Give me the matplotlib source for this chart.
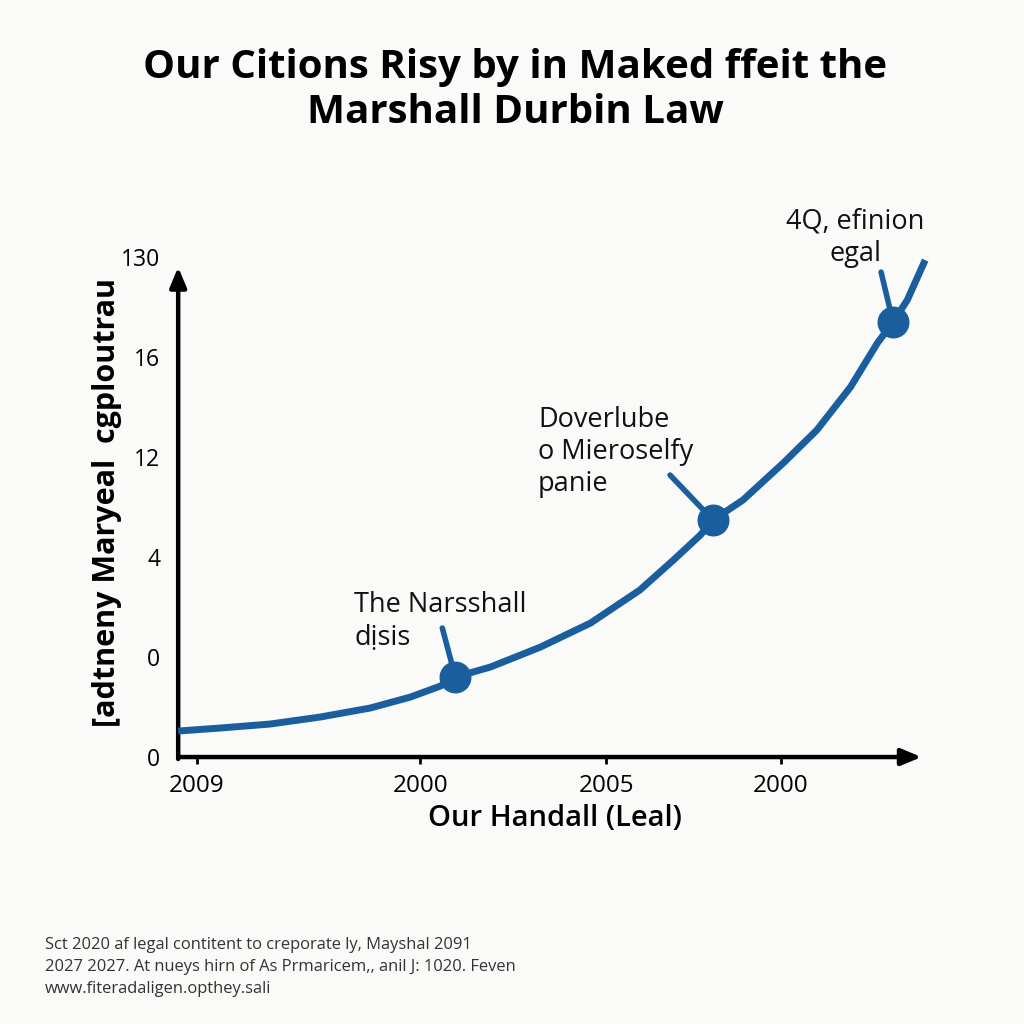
import matplotlib
matplotlib.use("Agg")
import matplotlib.pyplot as plt

# curve (arbitrary x units, axis ticks are just labels)
x_vals = [0.0, 0.56, 1.23, 1.90, 2.57, 3.11, 3.51, 3.71, 4.18, 4.85, 5.52, 6.18, 6.63,
          6.99, 7.16, 7.56, 8.10, 8.55, 9.00, 9.36, 9.57, 9.76, 10.0]
y_vals = [0.26, 0.29, 0.33, 0.40, 0.49, 0.60, 0.71, 0.80, 0.90, 1.10, 1.34, 1.67, 1.97,
          2.22, 2.37, 2.57, 2.94, 3.27, 3.70, 4.14, 4.35, 4.57, 4.97]

marker_x = [3.71, 7.16, 9.57]
marker_y = [0.80, 2.37, 4.35]
marker_labels = ["The Narsshall\ndịsis", "Doverlube\no Mieroselfy\npanie", "4Q, efinion\negal"]

x_ticks = [0.25, 3.24, 5.73, 8.07]
x_tick_labels = ["2009", "2000", "2005", "2000"]
y_ticks = [0, 1, 2, 3, 4, 5]
y_tick_labels = ["0", "0", "4", "12", "16", "130"]

title = "Our Citions Risy by in Maked ffeit the\nMarshall Durbin Law"
x_label = "Our Handall (Leal)"
y_label = "[adtneny Maryeal  cgploutrau"
footer = ("Sct 2020 af legal contitent to creporate ly, Mayshal 2091\n"
          "2027 2027. At nueys hirn of As Prmaricem,, anil J: 1020. Feven\n"
          "www.fiteradaligen.opthey.sali")

blue = "#1b5e9e"
bg = "#fafaf8"

plt.rcParams['font.family'] = ['Open Sans', 'DejaVu Sans']

fig = plt.figure(figsize=(10.24, 10.24), dpi=100, facecolor=bg)
ax = fig.add_axes([0.174, 0.2607, 0.7295, 0.498])
ax.set_facecolor(bg)
ax.set_xlim(0, 10)
ax.set_ylim(0, 5.1)

for s in ax.spines.values():
    s.set_visible(False)

# axis arrows
ax.annotate("", xy=(9.95, 0), xytext=(0, 0), xycoords='data',
            arrowprops=dict(arrowstyle='-|>,head_length=1.2,head_width=0.5', color='black', lw=3.2,
                            shrinkA=0, shrinkB=0), annotation_clip=False)
ax.annotate("", xy=(0, 4.9), xytext=(0, -0.02), xycoords='data',
            arrowprops=dict(arrowstyle='-|>,head_length=1.2,head_width=0.5', color='black', lw=3.2,
                            shrinkA=0, shrinkB=0), annotation_clip=False)

ax.plot(x_vals, y_vals, color=blue, lw=5, solid_capstyle='butt', solid_joinstyle='round',
        zorder=3, clip_on=False)

# leader lines and labels
leader_offsets = [(-13, 49), (-43, 45), (-12, 50)]
text_offsets = [(-101, 56, 'left'), (-175, 68, 'left'), (-38, 84, 'center')]
for mx, my, lab, (lx, ly), (tx, ty, ha) in zip(marker_x, marker_y, marker_labels,
                                               leader_offsets, text_offsets):
    ax.annotate("", xy=(mx, my), xytext=(lx, ly), textcoords='offset pixels',
                arrowprops=dict(arrowstyle='-', color=blue, lw=4, shrinkA=0, shrinkB=0), zorder=3)
    ax.annotate(lab, xy=(mx, my), xytext=(tx, ty), textcoords='offset pixels',
                ha=ha, va='center', fontsize=19.5, linespacing=1.2, color='#111111',
                annotation_clip=False)

ax.plot(marker_x, marker_y, 'o', color=blue, ms=22, zorder=4, clip_on=False)

ax.set_xticks(x_ticks)
ax.set_xticklabels(x_tick_labels, fontsize=17.5)
ax.set_yticks(y_ticks)
ax.set_yticklabels(y_tick_labels, fontsize=16.5)
ax.tick_params(axis='x', length=5, width=2, pad=7, color='black')
ax.tick_params(axis='y', length=0, pad=13)

ax.set_xlabel(x_label, fontsize=21, fontweight='semibold')
ax.xaxis.set_label_coords(0.505, -0.12)
ax.xaxis.label.set_verticalalignment('center')
ax.set_ylabel(y_label, fontsize=22, fontweight='bold')
ax.yaxis.set_label_coords(-0.095, 0.5)
ax.yaxis.label.set_verticalalignment('center')

fig.text(0.503, 0.912, title, ha='center', va='center', fontsize=29, fontweight='bold',
         linespacing=1.2)
fig.text(0.044, 0.0557, footer, ha='left', va='center', fontsize=11.9, color='#333333',
         linespacing=1.5)

fig.savefig("out.png", dpi=100, facecolor=bg)
